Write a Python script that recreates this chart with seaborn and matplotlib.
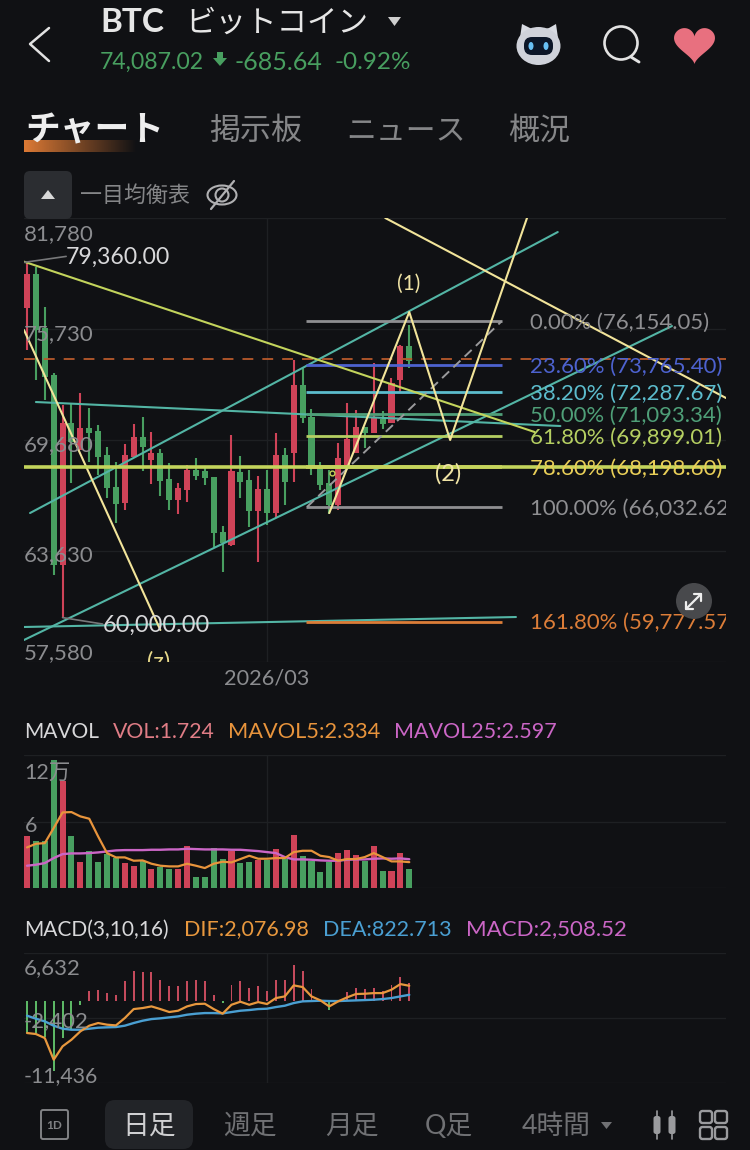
import numpy as np
import pandas as pd
import matplotlib
matplotlib.use("Agg")
import matplotlib.pyplot as plt
from matplotlib.patches import Circle, Ellipse, FancyBboxPatch, Polygon, Rectangle
import seaborn as sns

# ---------- data ----------
opens = [76870,78730,75780,73220,62870,70610,69130,70330,70170,68860,67120,66250,68750,69840,68590,68970,67550,66410,66950,68040,67990,67660,64670,63960,67940,67500,65810,67010,65700,68860,68970,72680,70930,68210,67340,66140,68320,68970,70390,70060,70820,70610,72950,74800]
closes = [78730,75670,73110,62870,70610,69570,70330,70060,68750,67060,66190,68860,69840,69300,68970,67440,66410,67060,68040,67720,67610,64610,64070,67990,67390,65810,67010,65700,68860,67390,72680,70880,68210,67230,66140,68700,69730,70390,70060,70880,70550,72790,74800,73980]
highs = [79360,79110,76930,73330,71590,71700,72240,71420,70500,69300,68480,69460,70550,70930,70115,69190,68420,67340,68320,68700,68210,67660,64990,69950,68810,68040,67720,68040,70060,69240,74040,73600,71370,68480,68040,69520,71700,71310,70390,73880,71260,73060,74860,75950]
lows = [74580,72950,71860,62320,60000,67340,69130,68480,67770,66520,65160,65860,68750,67990,67280,66630,65860,65650,66300,67500,67230,63850,62490,63900,66520,64940,63030,65050,65430,66140,67390,70610,67770,66950,65650,65860,68320,68970,69240,70060,70280,70610,72300,73600]

volume = [4.65,4.2,4.2,11.56,9.67,4.71,2.34,3.3,2.31,3.09,2.7,2.25,2.01,2.4,1.74,1.86,1.74,1.71,3.75,0.96,0.96,3.6,2.61,3.3,2.25,2.31,2.55,2.55,3.51,2.61,4.8,2.91,2.46,1.44,2.31,3.15,3.45,3.0,2.4,3.81,1.53,1.53,3.15,1.724]
mavol5 = [3.66,3.99,4.05,5.41,6.82,6.85,6.46,6.25,4.65,3.15,2.76,2.76,2.46,2.49,2.19,2.01,1.95,1.95,2.19,2.01,1.8,2.19,2.37,2.31,2.61,2.91,2.64,2.64,2.7,2.7,3.24,3.36,3.36,2.91,2.79,2.46,2.61,2.61,2.79,3.15,2.79,2.4,2.4,2.334]
mavol25 = [2.01,2.1,2.25,2.7,3.06,3.12,3.12,3.15,3.21,3.3,3.39,3.42,3.42,3.42,3.45,3.45,3.48,3.48,3.54,3.51,3.48,3.48,3.48,3.45,3.45,3.39,3.33,3.24,3.15,2.79,2.58,2.58,2.55,2.49,2.46,2.46,2.55,2.58,2.58,2.64,2.67,2.64,2.67,2.597]

macd = [-4490,-4490,-5050,-9815,-5190,-4030,-560,1300,1530,1065,830,2690,4070,3980,3940,2920,1990,2080,2690,2920,2690,830,-320,2220,2690,1760,2080,1390,2820,2920,5000,4070,1620,140,-1250,140,1160,1760,1620,1760,1300,2220,3240,2508]
dif = [-4490,-4630,-5190,-8200,-6340,-5420,-4260,-3470,-3100,-3330,-3430,-2410,-1160,-1020,-790,-1160,-1570,-1390,-790,-460,-420,-1160,-1800,-560,-140,-560,-190,-460,370,600,2130,1900,600,50,-790,-90,460,930,970,1060,1060,1530,2310,2077]
dea = [-2080,-2500,-2870,-3470,-3890,-4030,-4030,-3890,-3750,-3700,-3660,-3470,-3100,-2780,-2550,-2450,-2315,-2180,-1945,-1805,-1715,-1715,-1760,-1575,-1390,-1295,-1160,-1110,-880,-695,-325,-90,-45,0,-45,-45,0,45,90,140,230,370,600,823]

price_ticks = [81780,75730,69680,63630,57580]
fib_labels = ["0.00% (76,154.05)","23.60% (73,765.40)","38.20% (72,287.67)","50.00% (71,093.34)","61.80% (69,899.01)","78.60% (68,198.60)","100.00% (66,032.62)","161.80% (59,777.57)"]
fib_values = [76154.05,73765.40,72287.67,71093.34,69899.01,68198.60,66032.62,59777.57]
last_price = 74087.02

# ---------- styling ----------
sns.set_theme(style="dark")
plt.rcParams['font.family'] = ['Lato', 'Noto Sans CJK JP', 'DejaVu Sans']
BG = '#101114'; RED = '#cf4358'; GREEN = '#489f60'; GRID = '#1e2023'; GRAY = '#8b8c8f'
TEAL = '#53b5a5'; PALE = '#f2e49a'; LIME = '#c3d45c'
FIBC = ['#8f8f92','#4d62cf','#5cbccd','#4f9f78','#b5cf62','#e9cf58','#8f8f92','#dc7d38']

W, H = 750, 1150
fig = plt.figure(figsize=(W/100, H/100), dpi=100, facecolor=BG)

def panel(top, bottom):
    a = fig.add_axes([24/W, 1-bottom/H, (726-24)/W, (bottom-top)/H], facecolor=BG)
    return a

XMIN, XMAX = -0.34, 78.63
idx = np.arange(len(opens))
up = [c > o for o, c in zip(opens, closes)]
cols = [RED if u else GREEN for u in up]

# ---------- main candle panel ----------
ax = panel(218, 662)
ax.vlines(idx, lows, highs, colors=cols, lw=1.5, zorder=3)
ax.bar(idx, np.abs(np.array(closes)-np.array(opens)), bottom=np.minimum(opens, closes),
       width=0.68, color=cols, linewidth=0, zorder=3)
ax.set_xlim(XMIN, XMAX); ax.set_ylim(57580, 81780)
ax.set_yticks(price_ticks); ax.set_xticks([27])
ax.tick_params(length=0, labelleft=False, labelbottom=False)
ax.grid(True, color=GRID, lw=1, zorder=0)
ax.set_axisbelow(True)
for s in ax.spines.values(): s.set_visible(False)

def seg(xs, ys, color, lw=1.5, ls='-', z=5):
    sns.lineplot(x=xs, y=ys, color=color, lw=lw, ls=ls, ax=ax, zorder=z, errorbar=None, sort=False, legend=False)

ax.axhline(last_price, color='#b85a2c', lw=1.3, dashes=(6, 5), zorder=4)
seg([-0.34,72.55],[58779,75892],TEAL)
seg([0.34,59.7],[65700,81015],TEAL)
seg([1,60],[71750,70442],TEAL)
seg([-0.34,55],[59488,60032],TEAL)
for v, c in zip(fib_values, FIBC):
    ax.hlines(v, 31.4, 53.4, colors=c, lw=2.0 if v != 68198.60 else 2.6, zorder=5)
seg([31.5,53.4],[66032,76154],'#9a9a9c',1.4,(0,(5,3)))
seg([-0.34,57.1],[79400,70115],LIME)
seg([-0.34,15.0],[75674,59324],PALE)
seg([34,43,47.6,56.4],[65700,76655,69680,82000],PALE)
seg([40.3,78.63],[81780,71968],PALE)
ax.axhline(68198.60, color=LIME, lw=2.6, zorder=6)
seg([-0.34,4.4],[79360,79687],'#77787a',1.2)
seg([4,8.5],[60000,59650],'#77787a',1.2)
ax.plot([34.3],[67900],'o',ms=3.5,mfc='none',mec=LIME,mew=1,zorder=6)
for t, v, c in zip(fib_labels, fib_values, FIBC):
    ax.annotate(t, (56.6, v), xytext=(0, -1.2), textcoords='offset points', color=c, fontsize=15.9,
                va='center', ha='left', clip_on=True, annotation_clip=False, zorder=7)
ax.set_ylabel(''); ax.set_xlabel('')
ax.set_xlim(XMIN, XMAX); ax.set_ylim(57580, 81780)

# ---------- volume panel ----------
axv = panel(755, 888)
df = pd.DataFrame({'i': idx, 'v': volume, 'u': ['r' if u else 'g' for u in up]})
sns.barplot(data=df, x='i', y='v', hue='u', palette={'r': RED, 'g': GREEN}, native_scale=True,
            dodge=False, width=0.68, saturation=1, linewidth=0, legend=False, ax=axv, zorder=3)
sns.lineplot(x=idx, y=mavol25, color='#cb66c6', lw=1.7, ax=axv, zorder=4, errorbar=None)
sns.lineplot(x=idx, y=mavol5, color='#e8943c', lw=1.6, ax=axv, zorder=5, errorbar=None)
axv.set_xlim(XMIN, XMAX); axv.set_ylim(0, 12)
axv.set_yticks([0, 6, 12]); axv.set_xticks([27])
axv.tick_params(length=0, labelleft=False, labelbottom=False)
axv.grid(True, color=GRID, lw=1, zorder=0); axv.set_axisbelow(True)
axv.set_xlabel(''); axv.set_ylabel('')
for s in axv.spines.values(): s.set_visible(False)

# ---------- MACD panel ----------
axm = panel(953, 1083)
dm = pd.DataFrame({'i': idx, 'm': macd, 's': ['p' if m > 0 else 'n' for m in macd]})
sns.barplot(data=dm, x='i', y='m', hue='s', palette={'p': '#c44a5c', 'n': '#5cb765'}, native_scale=True,
            dodge=False, width=0.22, saturation=1, linewidth=0, legend=False, ax=axm, zorder=3)
sns.lineplot(x=idx, y=dea, color='#4a9fd2', lw=1.7, ax=axm, zorder=4, errorbar=None)
sns.lineplot(x=idx, y=dif, color='#e8983e', lw=1.6, ax=axm, zorder=5, errorbar=None)
axm.set_xlim(XMIN, XMAX); axm.set_ylim(-11436, 6632)
axm.set_yticks([-11436, -2402, 6632]); axm.set_xticks([27])
axm.tick_params(length=0, labelleft=False, labelbottom=False)
axm.grid(True, color=GRID, lw=1, zorder=0); axm.set_axisbelow(True)
axm.set_xlabel(''); axm.set_ylabel('')
for s in axm.spines.values(): s.set_visible(False)

# ---------- overlay in pixel space (labels + app chrome) ----------
ov = fig.add_axes([0, 0, 1, 1], facecolor='none')
ov.set_xlim(0, W); ov.set_ylim(H, 0); ov.axis('off')

def T(x, y, s, c=GRAY, fs=16, ha='left', va='center', **k):
    ov.text(x, y + 1.5, s, color=c, fontsize=fs, ha=ha, va=va, **k)

def L(xs, ys, c, lw=1.5, **k):
    ov.plot(xs, ys, color=c, lw=lw, solid_capstyle='round', **k)

# axis labels
for y, s in zip([233, 333, 444, 554, 652], ['81,780','75,730','69,680','63,630','57,580']):
    T(24, y, s)
T(66, 256, '79,360.00', '#d8d8da', 16.6)
T(103, 624, '60,000.00', '#d8d8da', 17)
T(224, 677, '2026/03', GRAY, 15.7)
T(397, 282, '(1)', '#efe3a5', 15)
T(435, 472, '(2)', '#efe3a5', 17)
T(147, 660, '(z)', '#e8d98a', 17)
ov.add_patch(Rectangle((130, 662), 50, 20, fc=BG, ec='none', zorder=4))

T(24, 731, 'MAVOL', '#d8d8da', 15)
T(113, 731, 'VOL:1.724', '#e07d86', 15.3)
T(228, 731, 'MAVOL5:2.334', '#e8943c', 15.7)
T(394, 731, 'MAVOL25:2.597', '#cb66c6', 15.5)
T(24, 771, '12万', GRAY, 15.5)
T(25, 824, '6', GRAY, 15.5)
T(24, 928, 'MACD(3,10,16)', '#d8d8da', 15)
T(184, 928, 'DIF:2,076.98', '#e8983e', 15.5)
T(323, 928, 'DEA:822.713', '#4a9fd2', 15.5)
T(466, 928, 'MACD:2,508.52', '#cb66c6', 16)
T(24, 967, '6,632')
T(24, 1020, '-2,402')
T(24, 1075, '-11,436', GRAY, 15.3)

# header
L([49, 30, 49], [28, 44, 61], '#e2e2e2', 1.8)
T(100, 21, 'BTC', '#e6e6e6', 24, fontweight='bold')
T(185, 21, 'ビットコイン', '#e6e6e6', 22)
ov.add_patch(Polygon([[388, 17], [401, 17], [394.5, 26]], fc='#cfcfcf', ec='none'))
T(100, 61, '74,087.02', GREEN, 16.6)
ov.add_patch(Polygon([[213, 58], [220, 66], [227, 58], [223, 58], [223, 52], [217, 52], [217, 58]], fc=GREEN, ec='none'))
T(235, 61, '-685.64', GREEN, 18)
T(334, 61, '-0.92%', GREEN, 17.5)
# robot
ov.add_patch(Polygon([[520, 38], [522, 24], [536, 31], [549, 28], [556, 24], [558, 38]], fc='#d8dbe2', ec='none'))
ov.add_patch(Ellipse((538.5, 46), 44, 38, fc='#cfd2da', ec='none'))
ov.add_patch(FancyBboxPatch((524, 37), 29, 18, boxstyle='round,pad=0,rounding_size=8', fc='#0c1628', ec='none'))
ov.add_patch(Ellipse((531, 46), 5, 8, fc='#68c0f5', ec='none'))
ov.add_patch(Ellipse((546, 46), 5, 8, fc='#68c0f5', ec='none'))
# search
ov.add_patch(Circle((621, 43), 16.5, fc='none', ec='#e2e2e2', lw=1.9))
L([631, 639], [57, 62], '#e2e2e2', 2.1)
# heart
t = np.linspace(0, 2*np.pi, 100)
hx = 16*np.sin(t)**3; hy = 13*np.cos(t)-5*np.cos(2*t)-2*np.cos(3*t)-np.cos(4*t)
ov.add_patch(Polygon(np.c_[694.5+hx*1.28, 43-hy*1.25], fc='#e8707f', ec='none'))
# tabs
grad = np.linspace(1, 0, 120).reshape(1, -1)
rgba = np.zeros((1, 120, 4)); rgba[..., :3] = matplotlib.colors.to_rgb('#dd7a35'); rgba[..., 3] = grad
ov.imshow(rgba, extent=(24, 137, 152, 140), aspect='auto', zorder=1)
ov.set_xlim(0, W); ov.set_ylim(H, 0)
T(25, 129, 'チャート', '#eeeeee', 25, fontweight='bold', zorder=3)
T(209, 129, '掲示板', '#858688', 22.3)
T(346, 129, 'ニュース', '#858688', 21.5)
T(508, 129, '概況', '#858688', 22.3)
# indicator row
ov.add_patch(FancyBboxPatch((24, 171), 48, 48, boxstyle='round,pad=0,rounding_size=6', fc='#2b2d31', ec='none', zorder=2))
ov.add_patch(Polygon([[41, 199], [55, 199], [48, 190]], fc='#d8d8d8', ec='none', zorder=3))
T(80, 194, '一目均衡表', '#858688', 15.8)
ov.add_patch(Ellipse((222, 195), 29, 19, fc='none', ec='#b0b0b2', lw=1.5))
ov.add_patch(Circle((222, 195), 6.5, fc='none', ec='#b0b0b2', lw=1.5))
L([211, 234], [209, 181], '#b0b0b2', 1.6)
# expand button
ov.add_patch(Circle((694, 601), 18, fc='#48494c', ec='none', zorder=8))
L([686, 701], [609, 594], '#eeeeee', 1.6, zorder=9)
L([686, 686, 693], [602, 609, 609], '#eeeeee', 1.6, zorder=9)
L([694, 701, 701], [594, 594, 601], '#eeeeee', 1.6, zorder=9)
# bottom bar
ov.add_patch(FancyBboxPatch((105, 1100), 88, 49, boxstyle='round,pad=0,rounding_size=10', fc='#222428', ec='none'))
ov.add_patch(FancyBboxPatch((41, 1110), 27, 29, boxstyle='round,pad=0,rounding_size=2', fc='none', ec='#808184', lw=1.4))
T(54.5, 1124, '1D', '#808184', 8.5, ha='center', fontweight='bold')
T(149.5, 1125, '日足', '#d0d0d2', 19.3, ha='center')
T(250, 1125, '週足', '#707174', 19.3, ha='center')
T(352, 1125, '月足', '#707174', 19.3, ha='center')
T(449, 1125, 'Q足', '#707174', 19.3, ha='center')
T(522, 1125, '4時間', '#707174', 19.3)
ov.add_patch(Polygon([[601, 1122], [612, 1122], [606.5, 1129]], fc='#707174', ec='none'))
for cx in (657, 672):
    ov.add_patch(FancyBboxPatch((cx-3.5, 1116), 7, 18, boxstyle='round,pad=0,rounding_size=2.5', fc='#9a9b9e', ec='none'))
    L([cx, cx], [1111, 1139], '#9a9b9e', 1.2)
for bx, by in ((700, 1111), (715, 1111), (700, 1127), (715, 1127)):
    ov.add_patch(FancyBboxPatch((bx, by), 12, 12, boxstyle='round,pad=0,rounding_size=2.5', fc='none', ec='#9a9b9e', lw=1.7))

fig.savefig('out.png', dpi=100, facecolor=BG)
